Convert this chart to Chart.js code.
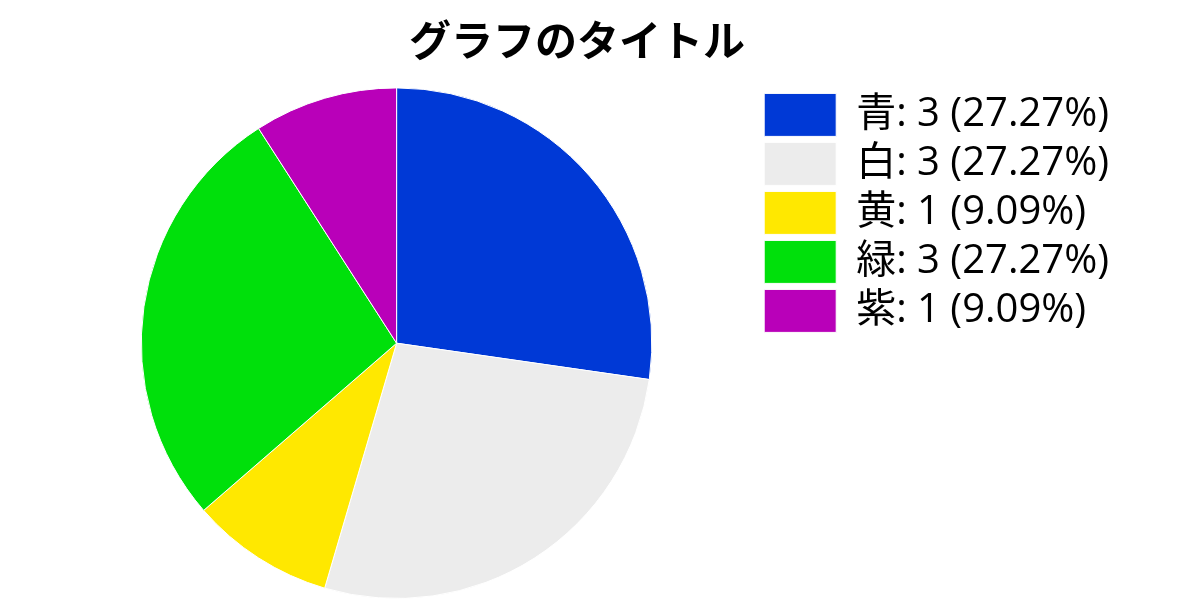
<!DOCTYPE html>
<html>
<head>
<meta charset="utf-8">
<script src="https://cdn.jsdelivr.net/npm/chart.js@4"></script>
<style>
  html, body { margin: 0; padding: 0; background: #ffffff; }
  #wrap { width: 1200px; height: 600px; }
</style>
</head>
<body>
<div id="wrap"><canvas id="pieChart" width="1200" height="600"></canvas></div>
<script>
// --- chart data ---
const categories = ['青', '白', '黄', '緑', '紫'];
const counts = [3, 3, 1, 3, 1];
const sliceColors = ['#0039d6', '#ececec', '#ffe800', '#00e00b', '#b900b9'];
const chartTitle = 'グラフのタイトル';

const TITLE_FONT = '"Noto Sans CJK JP", sans-serif';
const LEGEND_FONT = '"Open Sans", "Noto Sans CJK JP", sans-serif';
const total = counts.reduce((a, b) => a + b, 0);

const ctx = document.getElementById('pieChart').getContext('2d');
new Chart(ctx, {
  type: 'pie',
  data: {
    labels: categories,
    datasets: [{
      data: counts,
      backgroundColor: sliceColors,
      borderColor: '#ffffff',
      borderWidth: 1
    }]
  },
  options: {
    responsive: false,
    animation: false,
    layout: { padding: { left: 35, right: 81, top: 0, bottom: 1 } },
    plugins: {
      title: {
        display: true,
        text: chartTitle,
        color: '#000000',
        font: { family: TITLE_FONT, size: 42, weight: 'bold' },
        padding: { top: 15, bottom: 22 }
      },
      legend: {
        position: 'right',
        align: 'start',
        fullSize: false,
        labels: {
          boxWidth: 72,
          boxHeight: 43,
          padding: 6,
          color: '#000000',
          font: { family: LEGEND_FONT, size: 40 },
          generateLabels(chart) {
            const ds = chart.data.datasets[0];
            return chart.data.labels.map((lab, i) => ({
              text: `${lab}: ${ds.data[i]} (${(ds.data[i] / total * 100).toFixed(2)}%)`,
              fillStyle: ds.backgroundColor[i],
              strokeStyle: '#ffffff',
              lineWidth: 1,
              index: i
            }));
          }
        }
      },
      tooltip: { enabled: false }
    }
  }
});
</script>
</body>
</html>
